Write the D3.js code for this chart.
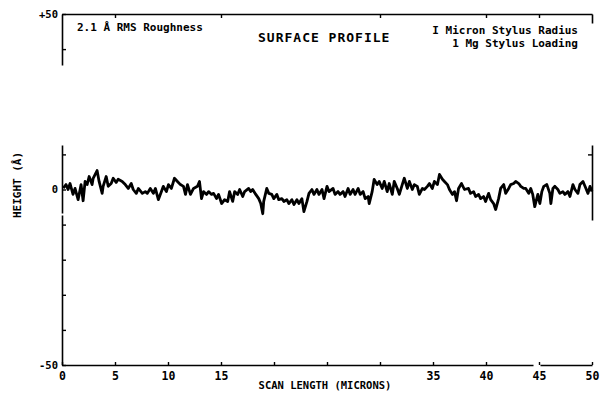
<!DOCTYPE html>
<html>
<head>
<meta charset="utf-8">
<script src="https://cdn.jsdelivr.net/npm/d3@7"></script>
<style>
  body { margin: 0; background: #fff; }
  svg { display: block; }
  text { font-family: "DejaVu Sans Mono", "Liberation Mono", monospace; fill: #000; }
</style>
</head>
<body>
<div id="chart"></div>
<script>
// scan position along the surface (microns)
const scanLength = [
  0.12,0.38,0.57,0.76,1.04,1.23,1.52,1.80,1.99,2.18,2.37,2.56,2.84,2.94,3.31,3.50,3.79,3.88,4.17,4.36,
  4.64,4.83,5.11,5.30,5.68,5.97,6.25,6.53,6.72,7.01,7.20,7.58,7.86,8.05,8.33,8.62,8.81,9.09,9.38,9.56,
  9.85,10.04,10.32,10.61,10.89,11.17,11.46,11.65,11.84,12.12,12.41,
  12.78,12.97,13.16,13.35,13.64,13.83,14.11,14.30,14.58,14.77,15.06,15.34,15.63,15.81,16.10,16.29,16.57,16.76,
  17.05,17.23,17.61,17.80,17.99,18.28,18.56,18.75,18.94,19.03,19.32,19.51,19.79,19.98,20.27,20.45,20.74,20.93,
  21.21,21.40,21.69,21.88,22.16,22.35,22.63,22.82,23.11,23.30,23.58,23.77,24.05,24.24,24.53,24.72,25.00,25.19,
  25.57,25.76,26.04,26.23,26.52,26.70,26.99,27.18,27.46,27.65,27.94,28.13,28.41,28.60,28.88,28.98,29.26,29.45,
  29.73,29.92,30.21,30.40,30.68,30.87,31.16,31.34,31.63,31.82,32.10,32.29,32.58,32.77,33.05,33.24,33.52,33.71,
  34.00,34.19,34.47,34.66,34.94,35.13,35.42,35.61,35.89,36.08,36.36,36.55,36.84,37.03,37.22,37.41,37.69,37.97,
  38.35,38.54,38.83,39.02,39.30,39.49,39.77,39.96,40.25,40.44,40.72,40.91,41.19,41.38,41.67,41.86,42.14,42.33,
  42.61,42.80,43.09,43.28,43.56,43.75,44.03,44.22,44.41,44.60,44.89,45.08,45.27,45.45,45.74,46.02,46.12,46.31,
  46.50,46.78,46.97,47.25,47.44,47.73,47.92,48.20,48.39,48.67,48.86,49.15,49.34,49.62,49.81,50.00
];

// profile height (angstroms)
const heightA = [
  0.4,1.4,0,1.7,-1.4,0.3,-2.9,1.4,-3.2,2.3,1.4,3.7,1.4,3.2,5.4,2.3,-1.1,0.9,3.7,0.9,
  1.7,3.2,2.0,2.9,2.3,1.4,0.3,1.7,0,-1.1,0.3,-1.1,-0.6,-1.1,0.3,-1.1,0.3,-2.9,-0.6,0.9,
  -0.6,1.4,0.3,3.2,2.3,1.4,0.9,-1.4,1.4,-1.4,0.3,
  0.9,2.3,-2.6,-0.6,-1.4,-0.6,-1.4,-1.1,-2.6,-1.4,-4.0,-2.9,-3.4,-0.6,-3.4,-0.6,-1.4,0,
  -2.0,-0.6,0.3,-0.6,0,-1.4,-2.6,-4.0,-6.9,-3.4,0.3,-1.1,-1.4,-2.6,-1.4,-2.9,-2.6,-3.4,
  -2.9,-4.0,-2.9,-4.3,-2.9,-4.0,-2.6,-6.3,-3.4,-1.1,0,-1.4,0,-1.4,0,-2.6,0.9,-0.6,
  0.3,-1.4,-0.6,-1.4,-0.6,-2.0,0.3,-1.4,0,-1.4,0.3,-1.4,-0.6,-2.6,-2.0,-4.0,-0.6,2.9,
  1.4,2.3,0.3,2.3,-0.6,1.7,-1.4,2.3,0.3,-1.4,1.4,3.2,0.3,2.3,0,1.4,0.9,-1.4,
  0.3,0,0.9,1.7,0.3,2.3,1.4,4.3,2.9,2.3,1.4,0,-1.4,-0.6,-3.2,0.3,1.7,0,
  0.3,-1.1,-0.6,-2.0,-1.4,-2.6,-2.0,-3.4,-1.1,-2.9,-4.0,-5.7,-2.6,0.3,1.4,-1.1,0.3,1.4,
  1.7,2.3,1.7,0.9,0.3,0.3,-1.1,0.3,-1.4,-4.9,-1.4,-4.0,-0.6,0.9,1.4,-1.1,-4.0,0.3,
  0.9,0,-1.1,-0.6,-1.4,-0.6,-2.0,1.4,0,-1.1,1.4,2.3,0.9,-1.1,0.9,-0.6
];

const xTicks = [0, 5, 10, 15, 20, 25, 30, 35, 40, 45, 50];
const xTickLabels = [0, 5, 10, 15, 35, 40, 45, 50];
const topTicks = [5, 15, 30, 40, 45];
const yTicks = [50, 40, 10, 0, -10, -20, -30, -40, -50];
const yTickLabels = { "50": "+50", "0": "0", "-50": "-50" };
const rightTicks = [10];

const width = 605, height = 393;

const svg = d3.select("#chart").append("svg")
    .attr("width", width)
    .attr("height", height);

const x = d3.scaleLinear().domain([0, 50]).range([62, 592]);
const y = d3.scaleLinear().domain([-50, 50]).range([365, 14]);

// bottom axis, ticks pointing up
const bottomAxis = svg.append("g")
    .attr("transform", `translate(0,${y(-50)})`)
    .call(d3.axisBottom(x)
        .tickValues(xTicks)
        .tickSize(-3)
        .tickSizeOuter(0)
        .tickPadding(7)
        .tickFormat(d => xTickLabels.includes(d) ? d : ""));
bottomAxis.select(".domain").attr("stroke-width", 1.6).attr("stroke-dasharray", "471,7,60");
bottomAxis.selectAll(".tick line").attr("stroke-width", 1.4);
bottomAxis.selectAll(".tick text")
    .style("font-size", "11.5px")
    .style("font-weight", "bold");

// top axis
const topAxis = svg.append("g")
    .attr("transform", `translate(0,${y(50)})`)
    .call(d3.axisTop(x)
        .tickValues(topTicks)
        .tickSize(-4)
        .tickSizeOuter(0)
        .tickFormat(""));
topAxis.select(".domain").attr("stroke-width", 1.6);
topAxis.selectAll(".tick line").attr("stroke-width", 1.4);

// left axis, broken like the original trace
const leftAxis = svg.append("g")
    .attr("transform", `translate(${x(0)},0)`)
    .call(d3.axisLeft(y)
        .tickValues(yTicks)
        .tickSize(-4)
        .tickSizeOuter(0)
        .tickPadding(4)
        .tickFormat(d => yTickLabels[d] || ""));
leftAxis.select(".domain").attr("stroke-width", 1.6).attr("stroke-dasharray", "150,2,68,80,60");
leftAxis.selectAll(".tick line").attr("stroke-width", 1.4);
leftAxis.selectAll(".tick text")
    .style("font-size", "10.5px")
    .style("font-weight", "bold");

// right axis, only small pieces survive
const rightAxis = svg.append("g")
    .attr("transform", `translate(${x(50)},0)`)
    .call(d3.axisRight(y)
        .tickValues(rightTicks)
        .tickSize(-4)
        .tickSizeOuter(0)
        .tickFormat(""));
rightAxis.select(".domain").attr("stroke-width", 1.6).attr("stroke-dasharray", "0,145,75,122,12");
rightAxis.selectAll(".tick line").attr("stroke-width", 1.4);

// profile trace
const line = d3.line()
    .x(d => x(d[0]))
    .y(d => y(d[1]));

svg.append("path")
    .datum(d3.zip(scanLength, heightA))
    .attr("d", line)
    .attr("fill", "none")
    .attr("stroke", "#000")
    .attr("stroke-width", 2.8)
    .attr("stroke-linejoin", "round");

// labels
svg.append("text")
    .attr("x", 77).attr("y", 31)
    .style("font-size", "11px").style("font-weight", "bold")
    .text("2.1 Å RMS Roughness");

svg.append("text")
    .attr("x", 258).attr("y", 42)
    .style("font-size", "13px").style("font-weight", "bold").style("letter-spacing", "1px")
    .text("SURFACE PROFILE");

svg.append("text")
    .attr("x", 578).attr("y", 34)
    .attr("text-anchor", "end")
    .style("font-size", "11px").style("font-weight", "bold")
    .text("I Micron Stylus Radius");

svg.append("text")
    .attr("x", 578).attr("y", 47)
    .attr("text-anchor", "end")
    .style("font-size", "11px").style("font-weight", "bold")
    .text("1 Mg Stylus Loading");

svg.append("text")
    .attr("x", 325).attr("y", 389)
    .attr("text-anchor", "middle")
    .style("font-size", "10.5px").style("font-weight", "bold")
    .text("SCAN LENGTH (MICRONS)");

svg.append("text")
    .attr("transform", "translate(21,185) rotate(-90)")
    .attr("text-anchor", "middle")
    .style("font-size", "11px").style("font-weight", "bold")
    .text("HEIGHT (Å)");
</script>
</body>
</html>
